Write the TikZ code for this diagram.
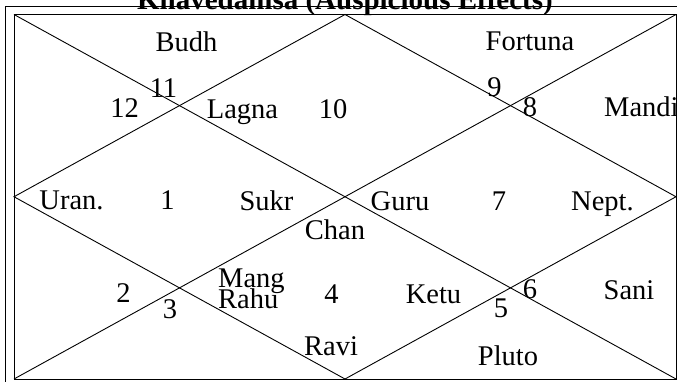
\documentclass[tikz,border=0pt]{standalone}
\usepackage{fontspec}
\setmainfont{Liberation Serif}
\begin{document}
\begin{tikzpicture}[x=1pt,y=-1pt,
  chartline/.style={line width=0.9pt, black},
  lbl/.style={font=\fontsize{28.5}{30}\selectfont, inner sep=0pt, anchor=base},
  lblw/.style={font=\fontsize{28.5}{30}\selectfont, inner sep=0pt, anchor=base west},
  ttl/.style={font=\fontsize{29}{30}\selectfont\bfseries, inner sep=0pt, anchor=base}]
\useasboundingbox (0,0) rectangle (677,382);
\clip (0,0) rectangle (677,382);
\fill[white] (0,0) rectangle (677,382);
% outer frame
\coordinate (OTL) at (5.5,6.5);
\coordinate (OBR) at (690,395);
\draw[chartline] (OTL) rectangle (OBR);
% inner chart
\coordinate (TL) at (14,14.5);
\coordinate (TR) at (676,14.5);
\coordinate (BL) at (14,379);
\coordinate (BR) at (676,379);
\coordinate (T) at (345,14.5);
\coordinate (B) at (345,379);
\coordinate (L) at (14,196.75);
\coordinate (R) at (676,196.75);
\draw[chartline] (TL) -- (TR) -- (BR) -- (BL) -- cycle;
\draw[chartline] (TL) -- (BR);
\draw[chartline] (TR) -- (BL);
\draw[chartline] (T) -- (R) -- (B) -- (L) -- cycle;
% title
\node[ttl] (title) at (345,10) {Khavedamsa (Auspicious Effects)};
% labels
\node[lbl] (budh) at (186.5,52) {Budh};
\node[lbl] (fortuna) at (530,51) {Fortuna};
\node[lbl] (n11) at (163.5,98) {11};
\node[lbl] (n12) at (124.5,118) {12};
\node[lbl] (lagna) at (242.5,119) {Lagna};
\node[lbl] (n10) at (333,119) {10};
\node[lbl] (n9) at (494.5,97) {9};
\node[lbl] (n8) at (530,117) {8};
\node[lblw] (mandi) at (604,117) {Mandi};
\node[lbl] (uran) at (71.5,210) {Uran.};
\node[lbl] (n1) at (167.5,210) {1};
\node[lbl] (sukr) at (266.5,211) {Sukr};
\node[lbl] (guru) at (400,211) {Guru};
\node[lbl] (n7) at (499,211) {7};
\node[lbl] (nept) at (602.5,211) {Nept.};
\node[lbl] (chan) at (335,239) {Chan};
\node[lbl] (n2) at (123.5,302) {2};
\node[lbl] (n3) at (170,318) {3};
\node[lblw] (mang) at (218,287) {Mang};
\node[lblw] (rahu) at (218,308) {Rahu};
\node[lbl] (n4) at (331.5,303) {4};
\node[lbl] (ketu) at (433.5,303) {Ketu};
\node[lbl] (n6) at (530,298) {6};
\node[lbl] (n5) at (501,317) {5};
\node[lbl] (sani) at (629,299) {Sani};
\node[lbl] (ravi) at (331,355) {Ravi};
\node[lbl] (pluto) at (508,365) {Pluto};
\end{tikzpicture}
\end{document}
